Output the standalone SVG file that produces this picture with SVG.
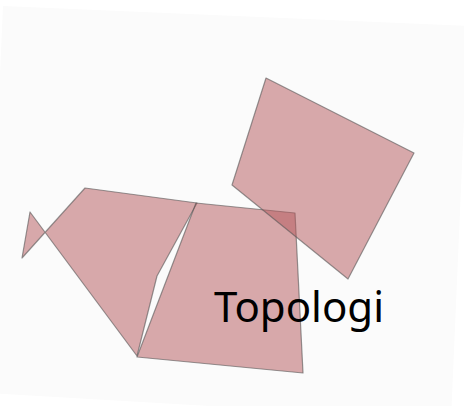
<svg xmlns="http://www.w3.org/2000/svg" width="464" height="406" viewBox="0 0 464 406">
  <style>
    .shape { fill: rgb(180,86,90); fill-opacity: 0.5; stroke: #555; stroke-opacity: 0.6; stroke-width: 1.2; stroke-linejoin: round; }
    .label { font-family: "Noto Sans", "Open Sans", sans-serif; font-size: 42px; fill: #000; }
  </style>
  <rect x="0" y="0" width="464" height="406" fill="#ffffff"/>
  <polygon points="3,6 468,26 451,420 -14,393" fill="#fbfbfb"/>
  <g id="poly-left">
    <polygon class="shape" points="85,188 197,203 157,276 137,356 30,212 22,258"/>
  </g>
  <g id="poly-middle">
    <polygon class="shape" points="196,203 295,213 303,373 137,357"/>
  </g>
  <g id="poly-right">
    <polygon class="shape" points="266,78 414,153 348,279 232,185"/>
  </g>
  <g id="connectors"></g>
  <g id="label">
    <text class="label" x="214" y="322">Topologi</text>
  </g>
</svg>
